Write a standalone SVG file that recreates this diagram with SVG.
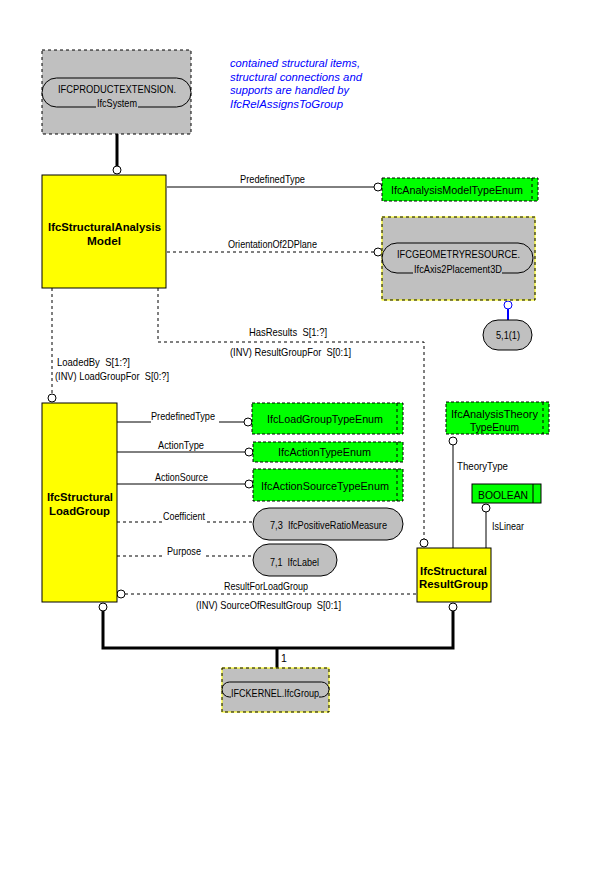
<svg xmlns="http://www.w3.org/2000/svg" width="600" height="888" viewBox="0 0 600 888" xml:space="preserve">
<style>
text{font-family:"Liberation Sans",Arial,sans-serif;fill:#000;white-space:pre}
.lbl{font-size:10.5px}
.nt{font-size:11px}
.bold{font-size:11.5px;font-weight:bold}
.note{font-size:11px;font-style:italic;fill:#0000ff}
.ln{stroke:#000;stroke-width:1;fill:none}
.dl{stroke:#000;stroke-width:1;fill:none;stroke-dasharray:3,3}
.thick{stroke:#000;stroke-width:3;fill:none}
.circ{fill:#fff;stroke:#000;stroke-width:1}
.ent{fill:#ffff00;stroke:#000;stroke-width:1}
.grn{fill:#00ff00;stroke:#000;stroke-width:1;stroke-dasharray:3,2}
.gryd{fill:#c0c0c0;stroke:#000;stroke-width:1;stroke-dasharray:3,3}
.gryy{fill:#c0c0c0;stroke:#ffff00;stroke-width:1}
.yd{fill:none;stroke:#000;stroke-width:1;stroke-dasharray:3,3}
.pill{fill:#c0c0c0;stroke:#000;stroke-width:1}
</style>
<rect width="600" height="888" fill="#fff"/>

<g id="note">
<text class="note" x="230" y="67" textLength="130" lengthAdjust="spacingAndGlyphs">contained structural items,</text>
<text class="note" x="230" y="81" textLength="132" lengthAdjust="spacingAndGlyphs">structural connections and</text>
<text class="note" x="230" y="94" textLength="119" lengthAdjust="spacingAndGlyphs">supports are handled by</text>
<text class="note" x="230" y="108" textLength="113" lengthAdjust="spacingAndGlyphs">IfcRelAssignsToGroup</text>
</g>

<g id="connectors">
<line class="thick" x1="117" y1="134" x2="117" y2="166"/>
<circle class="circ" cx="117" cy="170" r="4"/>

<line class="ln" x1="167" y1="187" x2="374" y2="187"/>
<circle class="circ" cx="378" cy="187" r="4"/>
<text class="lbl" x="240" y="183" textLength="65" lengthAdjust="spacingAndGlyphs">PredefinedType</text>

<line class="dl" x1="167" y1="252" x2="374" y2="252"/>
<circle class="circ" cx="378" cy="252" r="4"/>
<text class="lbl" x="228" y="248" textLength="89" lengthAdjust="spacingAndGlyphs">OrientationOf2DPlane</text>

<line stroke="#0000ff" stroke-width="2" x1="508" y1="309" x2="508" y2="320"/>
<circle fill="#fff" stroke="#0000ff" stroke-width="1" cx="508" cy="305" r="4"/>

<line class="dl" x1="52" y1="288" x2="52" y2="394"/>
<circle class="circ" cx="52" cy="398" r="4"/>
<text class="lbl" x="57" y="366" textLength="73" lengthAdjust="spacingAndGlyphs">LoadedBy  S[1:?]</text>
<text class="lbl" x="55" y="380" textLength="114" lengthAdjust="spacingAndGlyphs">(INV) LoadGroupFor  S[0:?]</text>

<polyline class="dl" points="158,288 158,342 424,342 424,539"/>
<circle class="circ" cx="424" cy="543" r="4"/>
<text class="lbl" x="249" y="336" textLength="78" lengthAdjust="spacingAndGlyphs">HasResults  S[1:?]</text>
<text class="lbl" x="230" y="356" textLength="121" lengthAdjust="spacingAndGlyphs">(INV) ResultGroupFor  S[0:1]</text>

<line class="ln" x1="117" y1="422" x2="151" y2="422"/>
<line class="ln" x1="219" y1="422" x2="244" y2="422"/>
<circle class="circ" cx="248" cy="422" r="4"/>
<text class="lbl" x="151" y="420" textLength="64" lengthAdjust="spacingAndGlyphs">PredefinedType</text>

<line class="ln" x1="117" y1="452" x2="245" y2="452"/>
<circle class="circ" cx="249" cy="452" r="4"/>
<text class="lbl" x="158" y="449" textLength="46" lengthAdjust="spacingAndGlyphs">ActionType</text>

<line class="ln" x1="117" y1="484" x2="245" y2="484"/>
<circle class="circ" cx="249" cy="484" r="4"/>
<text class="lbl" x="155" y="481" textLength="53" lengthAdjust="spacingAndGlyphs">ActionSource</text>

<line class="dl" x1="117" y1="522" x2="162" y2="522"/>
<line class="dl" x1="207" y1="522" x2="253" y2="522"/>
<text class="lbl" x="163" y="520" textLength="42" lengthAdjust="spacingAndGlyphs">Coefficient</text>

<line class="dl" x1="117" y1="556" x2="164" y2="556"/>
<line class="dl" x1="206" y1="556" x2="253" y2="556"/>
<text class="lbl" x="167" y="555" textLength="34" lengthAdjust="spacingAndGlyphs">Purpose</text>

<line class="dl" x1="125" y1="594" x2="417" y2="594"/>
<circle class="circ" cx="121" cy="594" r="4"/>
<text class="lbl" x="224" y="590" textLength="84" lengthAdjust="spacingAndGlyphs">ResultForLoadGroup</text>
<text class="lbl" x="196" y="609" textLength="145" lengthAdjust="spacingAndGlyphs">(INV) SourceOfResultGroup  S[0:1]</text>

<line class="ln" x1="453" y1="445" x2="453" y2="548"/>
<circle class="circ" cx="453" cy="441" r="4"/>
<text class="lbl" x="457" y="470" textLength="51" lengthAdjust="spacingAndGlyphs">TheoryType</text>

<line class="ln" x1="486" y1="512" x2="486" y2="548"/>
<circle class="circ" cx="486" cy="508" r="4"/>
<text class="lbl" x="492" y="530" textLength="32" lengthAdjust="spacingAndGlyphs">IsLinear</text>

<polyline class="thick" points="103,611 103,648 453,648 453,611"/>
<line class="thick" x1="277" y1="648" x2="277" y2="668"/>
<circle class="circ" cx="103" cy="607" r="4"/>
<circle class="circ" cx="453" cy="607" r="4"/>
<text class="lbl" x="281" y="662">1</text>
</g>

<g id="IfcSystem">
<rect class="gryd" x="42" y="50" width="149" height="84"/>
<rect class="pill" x="42" y="78" width="149" height="29" rx="14.5"/>
<rect fill="#c0c0c0" x="96" y="104" width="42" height="5"/>
<text class="nt" x="58" y="93" textLength="118" lengthAdjust="spacingAndGlyphs">IFCPRODUCTEXTENSION.</text>
<text class="nt" x="97" y="107" textLength="40" lengthAdjust="spacingAndGlyphs">IfcSystem</text>
</g>

<g id="IfcStructuralAnalysisModel">
<rect class="ent" x="42" y="175" width="124" height="113"/>
<text class="bold" x="48" y="231" textLength="113" lengthAdjust="spacingAndGlyphs">IfcStructuralAnalysis</text>
<text class="bold" x="87" y="245" textLength="34" lengthAdjust="spacingAndGlyphs">Model</text>
</g>

<g id="IfcAnalysisModelTypeEnum">
<rect class="grn" x="382" y="178" width="156" height="23"/>
<line class="yd" x1="532" y1="178" x2="532" y2="201"/>
<text class="nt" x="391" y="194" textLength="132" lengthAdjust="spacingAndGlyphs">IfcAnalysisModelTypeEnum</text>
</g>

<g id="IfcAxis2Placement3D">
<rect class="gryy" x="382" y="217" width="153" height="83"/>
<rect class="yd" x="382" y="217" width="153" height="83"/>
<rect class="pill" x="382" y="243" width="151" height="30" rx="15"/>
<rect fill="#c0c0c0" x="413" y="270" width="89" height="5"/>
<text class="nt" x="397" y="258" textLength="123" lengthAdjust="spacingAndGlyphs">IFCGEOMETRYRESOURCE.</text>
<text class="nt" x="414" y="273" textLength="88" lengthAdjust="spacingAndGlyphs">IfcAxis2Placement3D</text>
</g>

<g id="ref51">
<rect class="pill" x="483" y="320" width="49" height="30" rx="15"/>
<text class="nt" x="496" y="339" textLength="24" lengthAdjust="spacingAndGlyphs">5,1(1)</text>
</g>

<g id="IfcStructuralLoadGroup">
<rect class="ent" x="42" y="403" width="75" height="199"/>
<text class="bold" x="47" y="501" textLength="66" lengthAdjust="spacingAndGlyphs">IfcStructural</text>
<text class="bold" x="49" y="515" textLength="61" lengthAdjust="spacingAndGlyphs">LoadGroup</text>
</g>

<g id="IfcLoadGroupTypeEnum">
<rect class="grn" x="252" y="403" width="151" height="31"/>
<line class="yd" x1="397" y1="403" x2="397" y2="434"/>
<text class="nt" x="267" y="423" textLength="116" lengthAdjust="spacingAndGlyphs">IfcLoadGroupTypeEnum</text>
</g>

<g id="IfcActionTypeEnum">
<rect class="grn" x="253" y="442" width="150" height="20"/>
<line class="yd" x1="397" y1="442" x2="397" y2="462"/>
<text class="nt" x="278" y="456" textLength="93" lengthAdjust="spacingAndGlyphs">IfcActionTypeEnum</text>
</g>

<g id="IfcActionSourceTypeEnum">
<rect class="grn" x="253" y="469" width="150" height="32"/>
<line class="yd" x1="397" y1="469" x2="397" y2="501"/>
<text class="nt" x="261" y="490" textLength="128" lengthAdjust="spacingAndGlyphs">IfcActionSourceTypeEnum</text>
</g>

<g id="IfcPositiveRatioMeasure">
<rect class="pill" x="253" y="508" width="150" height="32" rx="16"/>
<text class="nt" x="270" y="529" textLength="117" lengthAdjust="spacingAndGlyphs">7,3  IfcPositiveRatioMeasure</text>
</g>

<g id="IfcLabel">
<rect class="pill" x="253" y="544" width="84" height="32" rx="16"/>
<text class="nt" x="270" y="566" textLength="49" lengthAdjust="spacingAndGlyphs">7,1  IfcLabel</text>
</g>

<g id="IfcAnalysisTheoryTypeEnum">
<rect class="grn" x="446" y="402" width="103" height="32"/>
<line class="yd" x1="543" y1="402" x2="543" y2="434"/>
<text class="nt" x="451" y="418" textLength="87" lengthAdjust="spacingAndGlyphs">IfcAnalysisTheory</text>
<text class="nt" x="470" y="431" textLength="49" lengthAdjust="spacingAndGlyphs">TypeEnum</text>
</g>

<g id="BOOLEAN">
<rect fill="#00ff00" stroke="#000" x="472" y="484" width="69" height="19"/>
<line class="ln" x1="533" y1="484" x2="533" y2="503"/>
<text class="nt" x="478" y="499" textLength="50" lengthAdjust="spacingAndGlyphs">BOOLEAN</text>
</g>

<g id="IfcStructuralResultGroup">
<rect class="ent" x="417" y="548" width="74" height="54"/>
<text class="bold" x="420" y="575" textLength="67" lengthAdjust="spacingAndGlyphs">IfcStructural</text>
<text class="bold" x="419" y="588" textLength="69" lengthAdjust="spacingAndGlyphs">ResultGroup</text>
</g>

<g id="IfcGroup">
<rect class="gryy" x="222" y="668" width="107" height="44"/>
<rect class="yd" x="222" y="668" width="107" height="44"/>
<rect class="pill" x="222" y="682" width="107" height="15" rx="7.5"/>
<rect fill="#c0c0c0" x="231" y="694" width="88" height="5"/>
<text class="nt" x="231" y="697" textLength="88" lengthAdjust="spacingAndGlyphs">IFCKERNEL.IfcGroup</text>
</g>
</svg>
